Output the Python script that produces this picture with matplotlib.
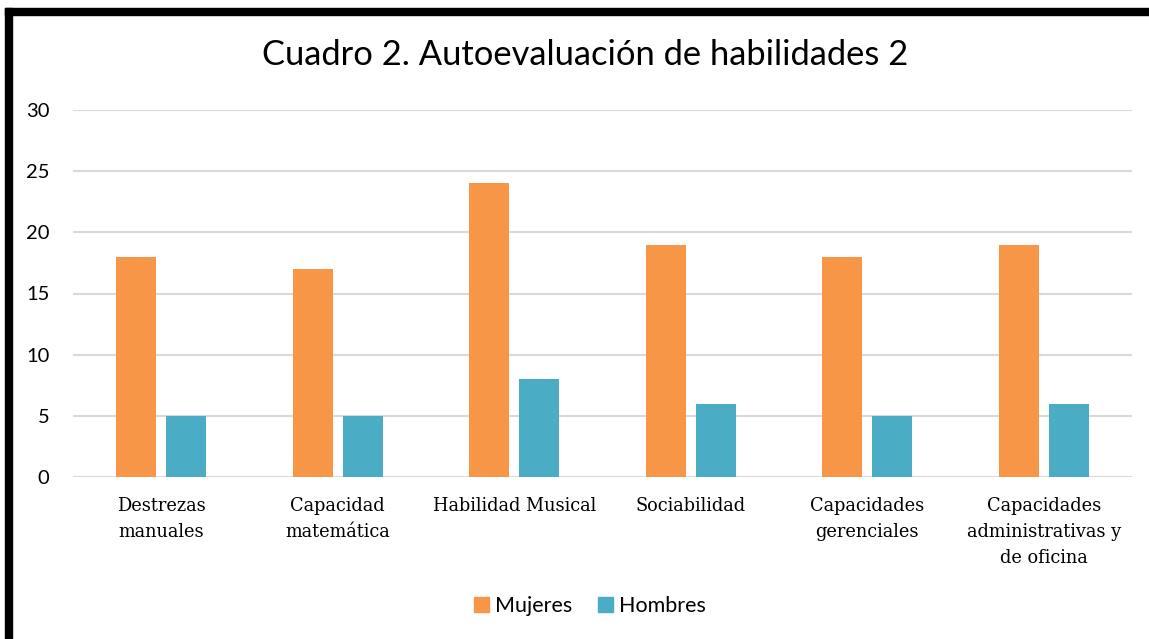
import matplotlib
matplotlib.use("Agg")
import matplotlib.pyplot as plt
from matplotlib.patches import Rectangle, Patch
import numpy as np

categories = ["Destrezas\nmanuales", "Capacidad\nmatemática", "Habilidad Musical",
              "Sociabilidad", "Capacidades\ngerenciales",
              "Capacidades\nadministrativas y\nde oficina"]
mujeres = [18, 17, 24, 19, 18, 19]
hombres = [5, 5, 8, 6, 5, 6]
yticks = [0, 5, 10, 15, 20, 25, 30]

c_m = "#F79646"
c_h = "#4BACC6"

W, H = 1149, 639
fig = plt.figure(figsize=(W / 100, H / 100), dpi=100)
ax = fig.add_axes([73 / W, 1 - 477 / H, (1132 - 73) / W, (477 - 110) / H])

x = np.arange(len(categories))
bw = 40 / 176.5
off = 25 / 176.5
ax.bar(x - off, mujeres, bw, color=c_m, zorder=3, label="Mujeres")
ax.bar(x + off, hombres, bw, color=c_h, zorder=3, label="Hombres")

ax.set_xlim(-0.5, len(categories) - 0.5)
ax.set_ylim(0, 30)
ax.set_yticks(yticks)
ax.set_yticklabels([str(v) for v in yticks], fontfamily="Lato", fontsize=14.5)
ax.set_xticks(x)
ax.set_xticklabels(categories, fontfamily="DejaVu Serif", fontsize=12.8, linespacing=1.55)
ax.tick_params(axis="both", length=0)
ax.tick_params(axis="y", pad=17)
ax.tick_params(axis="x", pad=14.5)
ax.grid(axis="y", color="#d9d9d9", linewidth=1.5, zorder=0)
for s in ax.spines.values():
    s.set_visible(False)

fig.text(585 / W, 1 - 55 / H, "Cuadro 2. Autoevaluación de habilidades 2",
         ha="center", va="center", fontfamily="Lato", fontsize=24.8)

handles = [Patch(color=c_m, label="Mujeres"), Patch(color=c_h, label="Hombres")]
fig.legend(handles=handles, loc="center", bbox_to_anchor=(590 / W, 1 - 606 / H),
           ncol=2, frameon=False, prop={"family": "Lato", "size": 15.5},
           handlelength=0.68, handleheight=0.68, handletextpad=0.3, columnspacing=1.2)

# black border (cropped on right/bottom)
fig.patches.append(Rectangle((5 / W, 0), 7 / W, 1 - 8 / H, transform=fig.transFigure,
                             color="black", zorder=10))
fig.patches.append(Rectangle((5 / W, 1 - 15 / H), 1 - 5 / W, 7 / H, transform=fig.transFigure,
                             color="black", zorder=10))

fig.savefig("out.png", dpi=100)
